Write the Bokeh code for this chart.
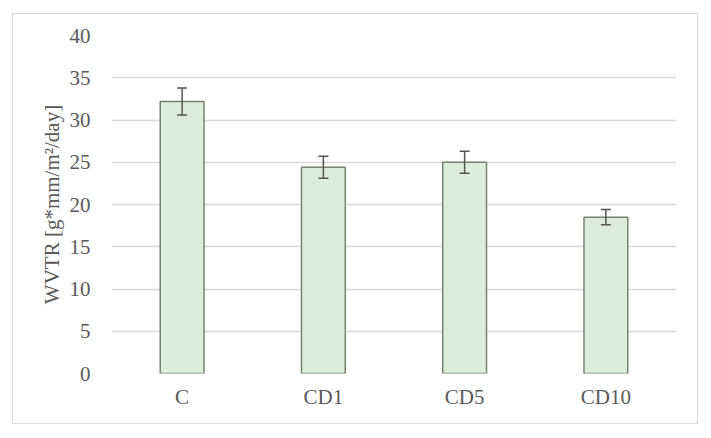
from bokeh.plotting import figure
from bokeh.models import ColumnDataSource, Whisker, TeeHead, Range1d, FactorRange
from bokeh.embed import file_html
from bokeh.resources import INLINE

categories = ["C", "CD1", "CD5", "CD10"]
wvtr = [32.2, 24.4, 25.0, 18.5]
err = [1.6, 1.3, 1.3, 0.9]
y_ticks = [0, 5, 10, 15, 20, 25, 30, 35, 40]

src = ColumnDataSource(dict(
    x=categories, top=wvtr,
    upper=[v + e for v, e in zip(wvtr, err)],
    lower=[v - e for v, e in zip(wvtr, err)],
))

FONT = "Liberation Serif"
TXT = "#595959"

p = figure(width=686, height=411, x_range=FactorRange(*categories, range_padding=0),
           y_range=Range1d(0, 40), output_backend="svg", toolbar_location=None,
           min_border_left=98, min_border_right=23, min_border_top=21, min_border_bottom=52,
           margin=(13, 0, 0, 12), styles={"border": "1px solid #d9d9d9", "box-sizing": "border-box"})
p.outline_line_color = None
p.background_fill_color = "white"
p.border_fill_color = "white"

p.vbar(x="x", top="top", width=0.31, source=src, fill_color="#dbeed9",
       line_color="#77836f", line_width=1.5)

w = Whisker(base="x", upper="upper", lower="lower", source=src, level="overlay",
            line_color="#555555", line_width=1.5,
            upper_head=TeeHead(size=10, line_color="#555555", line_width=1.5),
            lower_head=TeeHead(size=10, line_color="#555555", line_width=1.5))
p.add_layout(w)

p.xgrid.grid_line_color = None
p.ygrid.grid_line_color = "#d9d9d9"
p.ygrid.grid_line_width = 1.5
p.yaxis.ticker = y_ticks

for ax in (p.xaxis, p.yaxis):
    ax.axis_line_color = None
    ax.major_tick_line_color = None
    ax.minor_tick_line_color = None
    ax.major_label_text_font = FONT
    ax.major_label_text_font_size = "21px"
    ax.major_label_text_color = TXT

p.yaxis.major_label_standoff = 15
p.xaxis.major_label_standoff = 5
p.yaxis.axis_label = "WVTR [g*mm/m²/day]"
p.yaxis.axis_label_text_font = FONT
p.yaxis.axis_label_text_font_size = "21px"
p.yaxis.axis_label_text_font_style = "normal"
p.yaxis.axis_label_text_color = TXT
p.yaxis.axis_label_standoff = 3

open("out.html", "w").write(file_html(p, INLINE))
